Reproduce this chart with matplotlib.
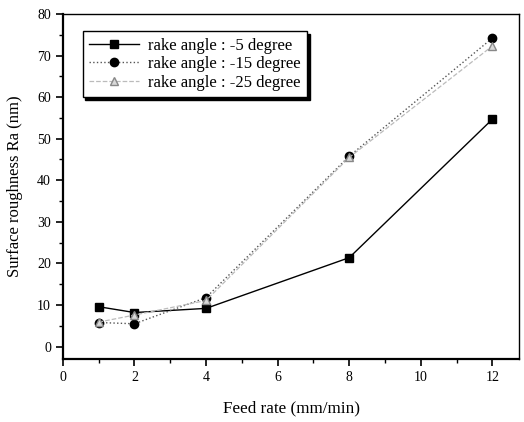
import matplotlib
matplotlib.use("Agg")
import matplotlib.pyplot as plt
from matplotlib.ticker import MultipleLocator

plt.rcParams['font.family'] = ['Liberation Serif', 'DejaVu Serif']

# feed rate (mm/min)
feed_rate = [1, 2, 4, 8, 12]

# surface roughness Ra (nm) for each rake angle
ra_5 = [9.6, 8.2, 9.2, 21.4, 54.7]
ra_15 = [5.8, 5.5, 11.8, 45.8, 74.2]
ra_25 = [5.9, 7.6, 11.1, 45.5, 72.3]

y_ticks = [0, 10, 20, 30, 40, 50, 60, 70, 80]
x_ticks = [0, 2, 4, 6, 8, 10, 12]

fig = plt.figure(figsize=(5.24, 4.22), dpi=100)
ax = fig.add_axes([0.120, 0.149, 0.871, 0.818])

ax.plot(feed_rate, ra_5, '-', color='black', lw=1.0, marker='s', ms=6,
        label='rake angle : -5 degree', zorder=3)
ax.plot(feed_rate, ra_15, ':', color='#555555', lw=1.0, marker='o', ms=6,
        mfc='black', mec='black', label='rake angle : -15 degree', zorder=3)
ax.plot(feed_rate, ra_25, '--', color='#bbbbbb', lw=0.9, marker='^', ms=6,
        mfc='#d8d8d8', mec='#888888', label='rake angle : -25 degree', zorder=4)

ax.set_xlim(0, 12.75)
ax.set_ylim(-3, 80)
ax.set_xticks(x_ticks)
ax.set_yticks(y_ticks)
ax.set_yticklabels([str(v) for v in y_ticks])
ax.xaxis.set_minor_locator(MultipleLocator(1))
ax.yaxis.set_minor_locator(MultipleLocator(5))
ax.tick_params(which='both', direction='out', labelsize=10, top=False, right=False)
ax.tick_params(which='major', length=5, width=1.2)
ax.tick_params(which='minor', length=3, width=1.0)

for s in ['left', 'bottom']:
    ax.spines[s].set_linewidth(1.6)
for s in ['top', 'right']:
    ax.spines[s].set_linewidth(1.0)

ax.set_xlabel('Feed rate (mm/min)', fontsize=12.3, labelpad=12)
ax.set_ylabel('Surface roughness Ra (nm)', fontsize=12, labelpad=10)

leg = ax.legend(loc='upper left', bbox_to_anchor=(0.025, 0.975), fontsize=12,
                fancybox=False, shadow={'color': 'black', 'alpha': 1.0},
                edgecolor='black', framealpha=1, handlelength=3.0,
                handletextpad=0.5, borderpad=0.4, labelspacing=0.15)
leg.get_frame().set_linewidth(1.0)

fig.savefig('out.png', dpi=100)
